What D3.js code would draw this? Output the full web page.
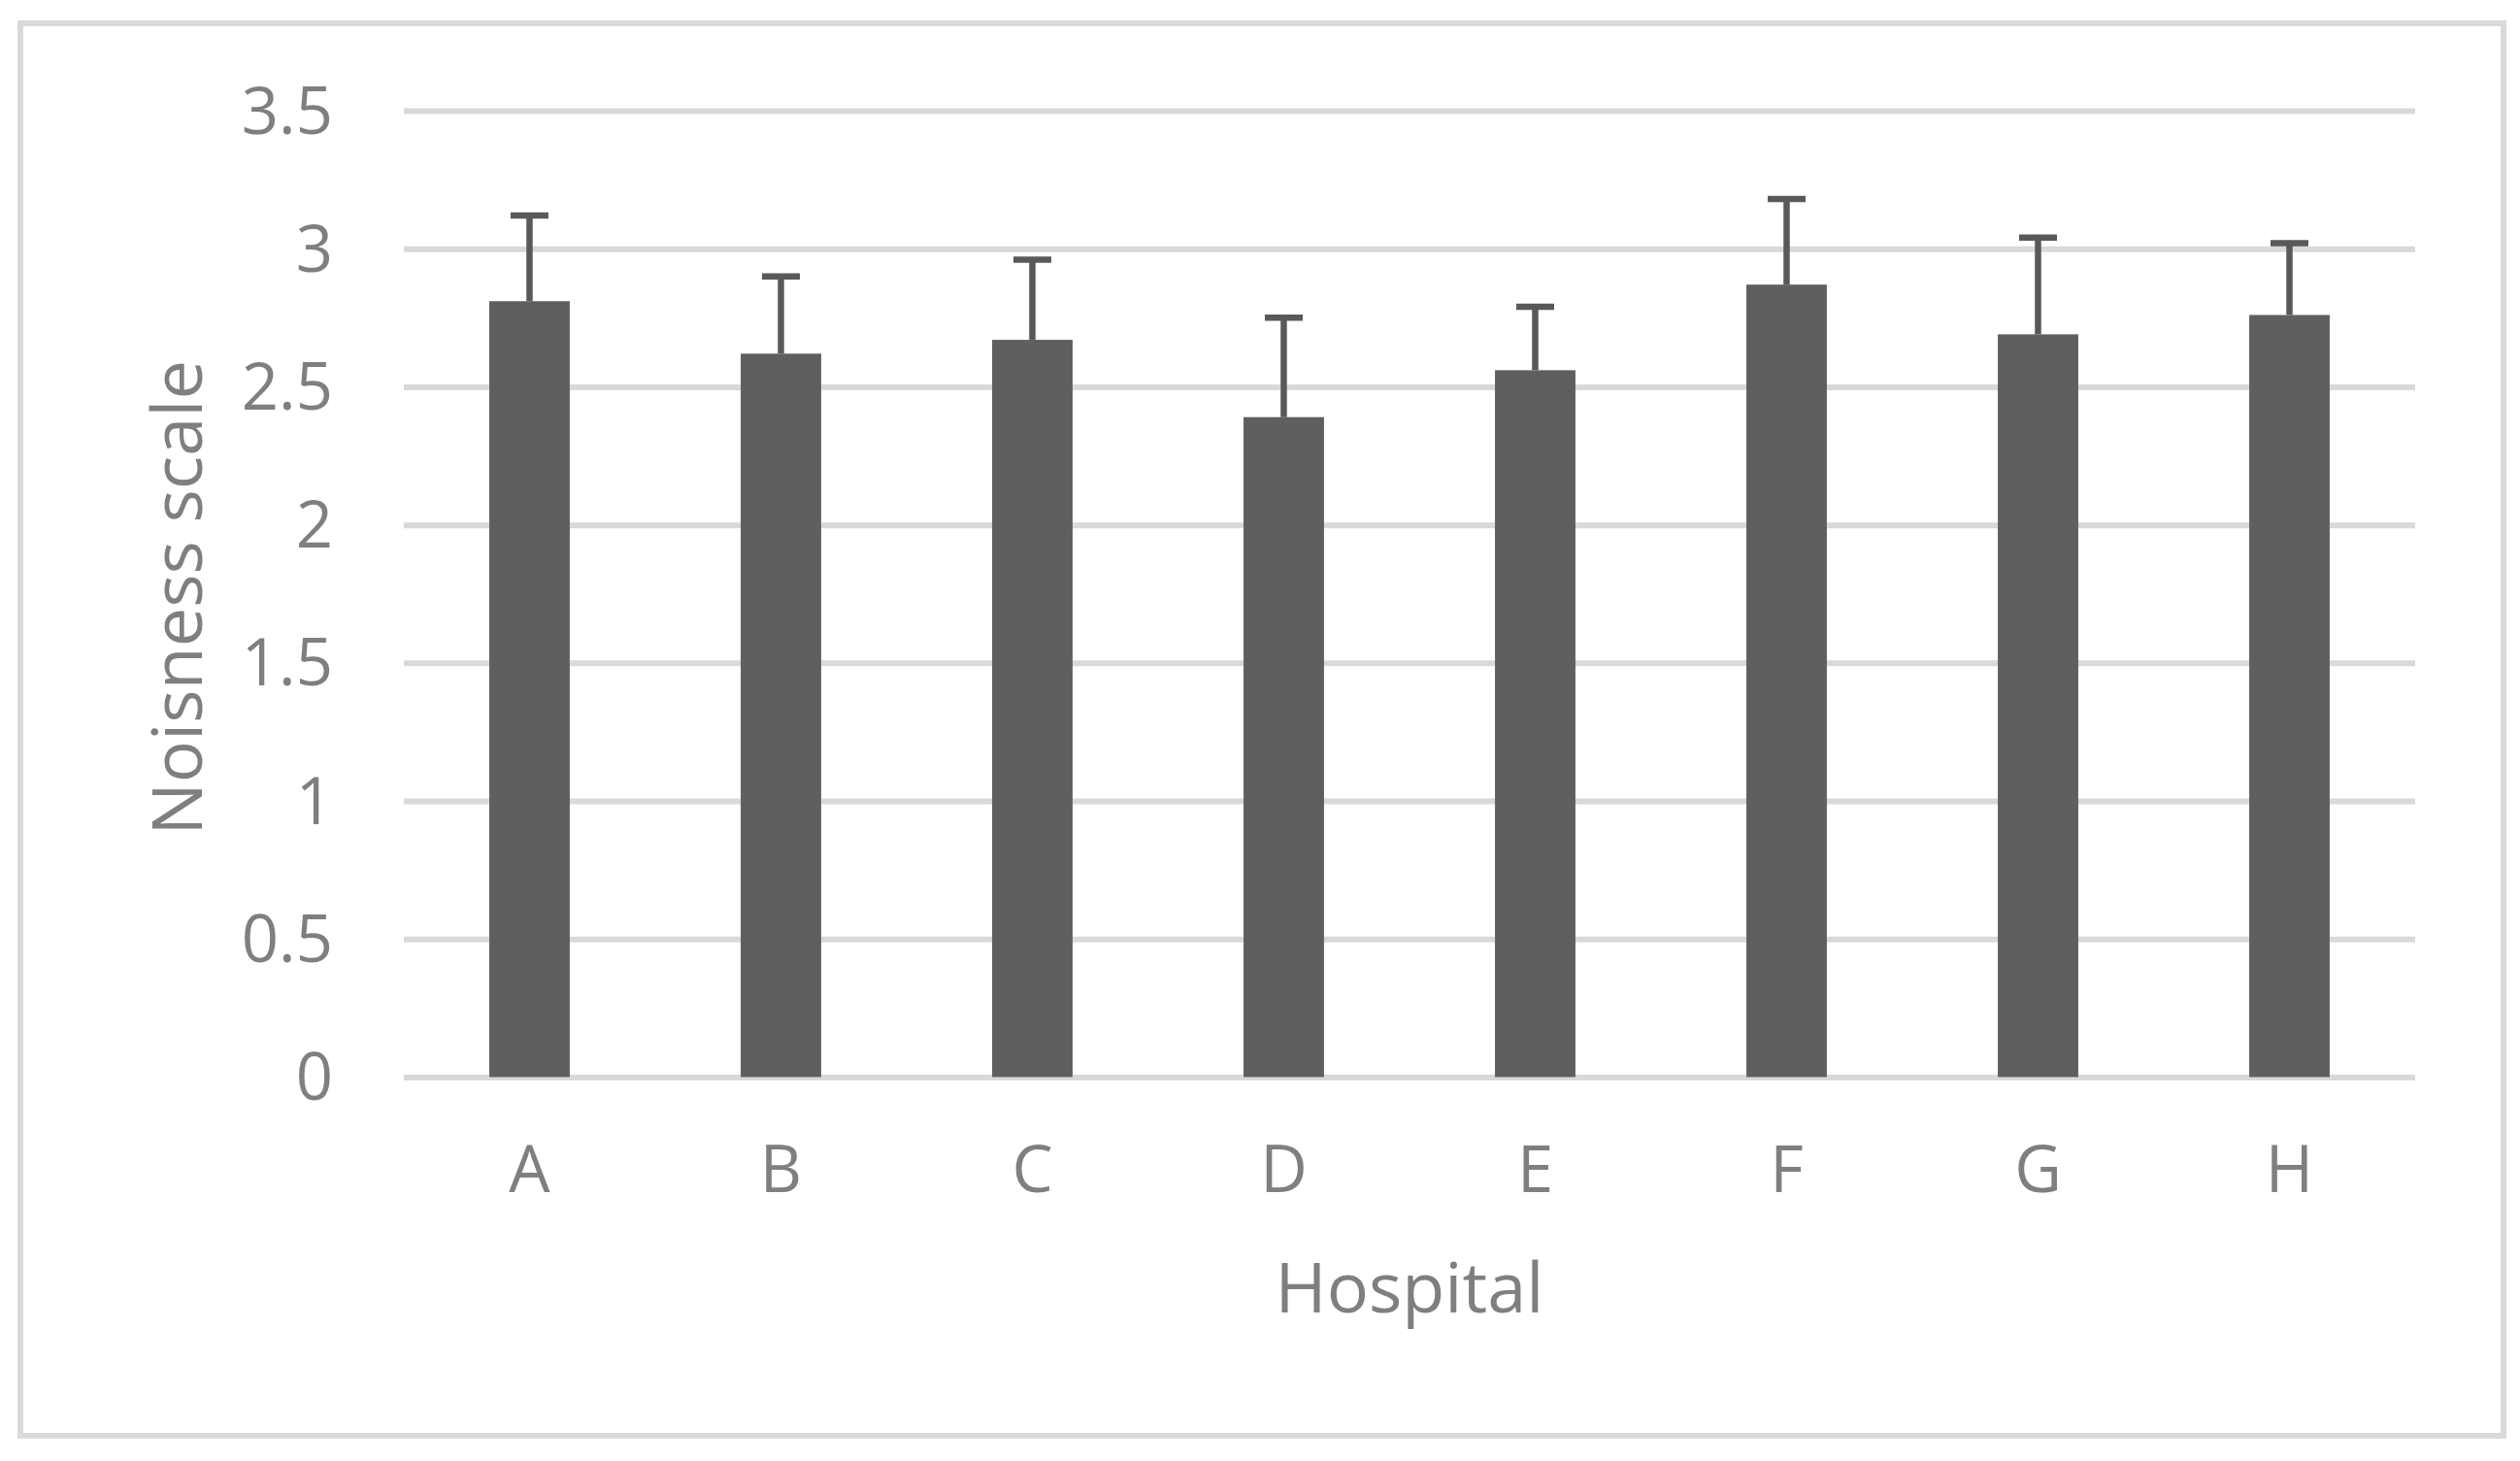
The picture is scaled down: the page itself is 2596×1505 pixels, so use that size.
<!DOCTYPE html>
<html>
<head>
<meta charset="utf-8">
<script src="https://cdn.jsdelivr.net/npm/d3@7"></script>
<style>
  html, body { margin: 0; padding: 0; background: #fff; }
  svg { display: block; }
  text { font-family: "Open Sans", "Noto Sans", sans-serif; fill: #7f7f7f; }
</style>
</head>
<body>
<div id="chart"></div>
<script>
// hospitals and their mean noisiness with the (upper) error
const hospitals = ["A", "B", "C", "D", "E", "F", "G", "H"];
const means = [2.81, 2.62, 2.67, 2.39, 2.56, 2.87, 2.69, 2.76];
const errors = [0.31, 0.28, 0.29, 0.36, 0.23, 0.31, 0.35, 0.26];
const yTicks = [0, 0.5, 1, 1.5, 2, 2.5, 3, 3.5];

const W = 2596, H = 1505;
const plot = { left: 416, right: 2488, top: 114, bottom: 1109.5 };

const svg = d3.select("#chart").append("svg")
  .attr("width", W)
  .attr("height", H);

// chart frame
svg.append("rect")
  .attr("x", 21).attr("y", 24)
  .attr("width", 2558).attr("height", 1455)
  .attr("fill", "#fff")
  .attr("stroke", "#d9d9d9")
  .attr("stroke-width", 6);

const x = d3.scaleBand()
  .domain(hospitals)
  .range([plot.left, plot.right])
  .paddingInner(0.68)
  .paddingOuter(0.34);

const y = d3.scaleLinear()
  .domain([0, 3.5])
  .range([plot.bottom, plot.top]);

// y axis = gridlines + labels
const yAxis = svg.append("g")
  .attr("transform", `translate(${plot.left},0)`)
  .call(d3.axisLeft(y)
    .tickValues(yTicks)
    .tickFormat(d3.format("~g"))
    .tickSize(-(plot.right - plot.left))
    .tickPadding(73));
yAxis.select(".domain").remove();
yAxis.selectAll(".tick line")
  .attr("stroke", "#d9d9d9")
  .attr("stroke-width", 6);
yAxis.selectAll(".tick text")
  .attr("font-size", 67)
  .attr("dy", "23px")
  .style("fill", "#7f7f7f");

// x axis labels
const xAxis = svg.append("g")
  .attr("transform", `translate(0,${plot.bottom})`)
  .call(d3.axisBottom(x).tickSize(0).tickPadding(0));
xAxis.select(".domain").remove();
xAxis.selectAll(".tick text")
  .attr("font-size", 67)
  .attr("y", 118.5)
  .attr("dy", 0)
  .style("fill", "#7f7f7f");

// bars
svg.append("g")
  .selectAll("rect")
  .data(hospitals)
  .join("rect")
  .attr("x", d => x(d))
  .attr("width", x.bandwidth())
  .attr("y", (d, i) => y(means[i]))
  .attr("height", (d, i) => y(0) - y(means[i]))
  .attr("fill", "#5f5f5f");

// error bars (plus direction only)
const capW = 39;
const err = svg.append("g")
  .attr("stroke", "#595959")
  .attr("stroke-width", 6.5);
hospitals.forEach((h, i) => {
  const cx = x(h) + x.bandwidth() / 2;
  err.append("line")
    .attr("x1", cx).attr("x2", cx)
    .attr("y1", y(means[i]))
    .attr("y2", y(means[i] + errors[i]));
  err.append("line")
    .attr("x1", cx - capW / 2).attr("x2", cx + capW / 2)
    .attr("y1", y(means[i] + errors[i]))
    .attr("y2", y(means[i] + errors[i]));
});

// axis titles
svg.append("text")
  .attr("x", (plot.left + plot.right) / 2)
  .attr("y", 1352)
  .attr("text-anchor", "middle")
  .attr("font-size", 72)
  .text("Hospital");

svg.append("text")
  .attr("transform", `translate(208,${(plot.top + plot.bottom) / 2 + 4}) rotate(-90)`)
  .attr("text-anchor", "middle")
  .attr("font-size", 72)
  .text("Noisness scale");
</script>
</body>
</html>
